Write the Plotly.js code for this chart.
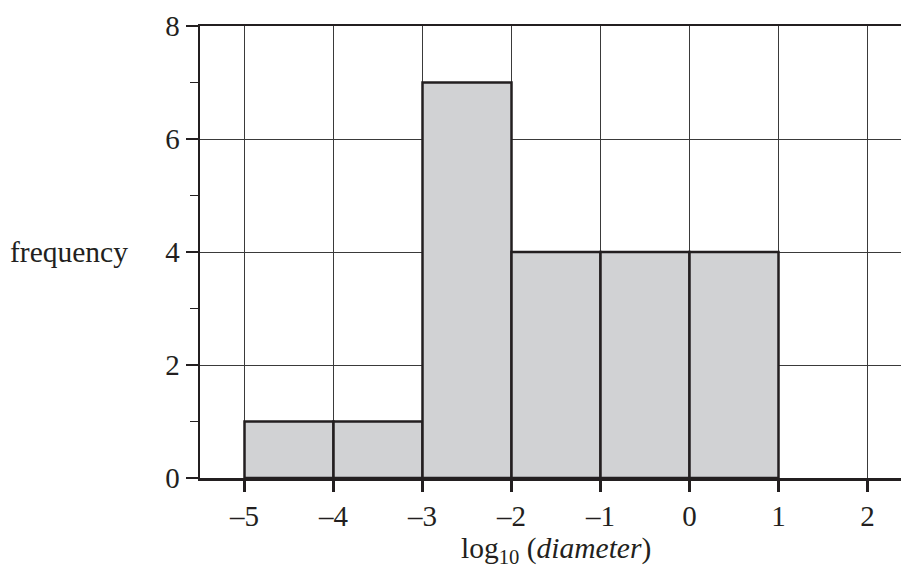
<!DOCTYPE html>
<html>
<head>
<meta charset="utf-8">
<script src="https://cdn.plot.ly/plotly-3.0.1.min.js"></script>
<style>
html, body { margin: 0; padding: 0; overflow: hidden; background: #fff; }
#chart { width: 932px; height: 568px; }
</style>
</head>
<body>
<div id="chart"></div>
<script>
// Data
var binStarts = [-5, -4, -3, -2, -1, 0];
var frequency = [1, 1, 7, 4, 4, 4];
var xTickVals = [-5, -4, -3, -2, -1, 0, 1, 2];
var xTickText = ['\u20135', '\u20134', '\u20133', '\u20132', '\u20131', '0', '1', '2'];
var yTickVals = [0, 2, 4, 6, 8];
var yTitle = 'frequency';
var xTitle = 'log<sub>10</sub> (<i>diameter</i>)';

var ink = '#231f20';
var fam = 'Liberation Serif, Times New Roman, serif';
var font = { family: fam, size: 29, color: ink };

var trace = {
  type: 'bar',
  x: binStarts,
  y: frequency,
  width: 1,
  offset: 0,
  marker: { color: '#d1d2d4', line: { color: ink, width: 2.5 } },
  hoverinfo: 'skip'
};

var layout = {
  width: 932,
  height: 568,
  margin: { l: 200, r: 20, t: 26, b: 90 },
  paper_bgcolor: '#ffffff',
  plot_bgcolor: '#ffffff',
  showlegend: false,
  font: font,
  bargap: 0,
  xaxis: {
    range: [-5.5, 2.5],
    tickvals: xTickVals,
    ticktext: xTickText,
    ticks: 'outside',
    ticklen: 11,
    tickwidth: 2.5,
    tickcolor: ink,
    showline: true,
    linecolor: ink,
    linewidth: 2.5,
    mirror: true,
    showgrid: true,
    gridcolor: '#3a3a3a',
    gridwidth: 1,
    zeroline: false,
    tickfont: font,
    fixedrange: true
  },
  yaxis: {
    range: [0, 8],
    tickvals: yTickVals,
    ticks: 'outside',
    ticklen: 12,
    tickwidth: 2.5,
    tickcolor: ink,
    showline: true,
    linecolor: ink,
    linewidth: 2.5,
    mirror: true,
    showgrid: true,
    gridcolor: '#3a3a3a',
    gridwidth: 1,
    zeroline: false,
    tickfont: font,
    minor: { dtick: 1, tick0: 0, ticks: 'outside', ticklen: 8, tickwidth: 1.5, tickcolor: ink, showgrid: false },
    fixedrange: true
  },
  annotations: [
    {
      text: yTitle, xref: 'paper', yref: 'y', x: -0.184, y: 4,
      xanchor: 'center', yanchor: 'middle', showarrow: false,
      font: { family: fam, size: 29.5, color: ink }
    },
    {
      text: xTitle, xref: 'paper', yref: 'paper', x: 0.5, y: -0.16,
      xanchor: 'center', yanchor: 'middle', showarrow: false,
      font: { family: fam, size: 29.5, color: ink }
    }
  ]
};

Plotly.newPlot('chart', [trace], layout, { displayModeBar: false, staticPlot: true });
</script>
</body>
</html>
